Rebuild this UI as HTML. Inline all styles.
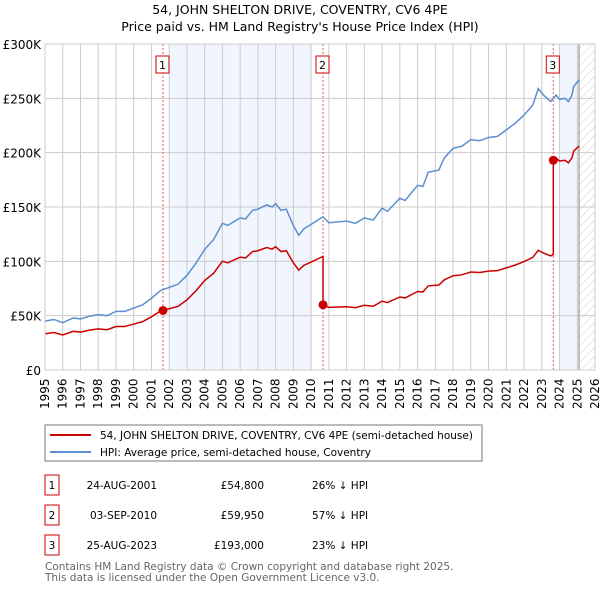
<!DOCTYPE html>
<html><head><meta charset="utf-8"><style>
body{margin:0;background:#fff;font-family:"Liberation Sans",sans-serif;}
svg text{font-family:"DejaVu Sans","Liberation Sans",sans-serif;}
</style></head><body>
<svg id="c" width="600" height="590" xmlns="http://www.w3.org/2000/svg">
<defs><pattern id="hatch" width="6" height="6" patternUnits="userSpaceOnUse" patternTransform="rotate(45)"><line x1="0" y1="0" x2="0" y2="6" stroke="#ccc" stroke-width="1"/></pattern></defs>
<text x="300" y="14" text-anchor="middle" font-size="12.5">54, JOHN SHELTON DRIVE, COVENTRY, CV6 4PE</text>
<text x="300" y="31" text-anchor="middle" font-size="12.5">Price paid vs. HM Land Registry's House Price Index (HPI)</text>
<g id="plot"></g>
<rect x="45" y="425" width="437" height="36" fill="#fff" stroke="#777"/>
<line x1="50" y1="435" x2="91" y2="435" stroke="#cc0000" stroke-width="2"/>
<text x="100" y="439" font-size="10.5">54, JOHN SHELTON DRIVE, COVENTRY, CV6 4PE (semi-detached house)</text>
<line x1="50" y1="452" x2="91" y2="452" stroke="#5b8fd0" stroke-width="2"/>
<text x="100" y="456" font-size="10.5">HPI: Average price, semi-detached house, Coventry</text>
<g id="table" font-size="10.5"></g>
<text x="45" y="570" font-size="10.5" fill="#666">Contains HM Land Registry data © Crown copyright and database right 2025.</text>
<text x="45" y="581" font-size="10.5" fill="#666">This data is licensed under the Open Government Licence v3.0.</text>
</svg>
<script>
const hpiYears=[1995,1995.5,1996,1996.6,1997,1997.5,1998,1998.5,1999,1999.5,2000,2000.5,2001,2001.5,2002,2002.5,2003,2003.5,2004,2004.5,2005,2005.3,2005.7,2006,2006.3,2006.7,2007,2007.5,2007.8,2008,2008.3,2008.6,2009,2009.3,2009.6,2010,2010.67,2011,2012,2012.5,2013,2013.5,2014,2014.3,2015,2015.3,2016,2016.3,2016.6,2017.2,2017.5,2018,2018.5,2019,2019.5,2020,2020.5,2021,2021.5,2022,2022.5,2022.8,2023.1,2023.5,2023.8,2024,2024.3,2024.5,2024.7,2024.8,2025.1];
const hpiValues=[45,46.5,43.5,48,47,49.5,51,50,54,54,57,60,66,73,76,79,87,98,111,120,135,133,137,140,139,147,148,152,150,153,147,148,133,124,130,134,141,135.5,137,135,140,138,149,146,158,156,170,169,182,184,195,204,206,212,211,214,215,221,227,234.6,244,259,253,247,253,249,250,247,253,261,267];
const saleYears=[2001.65,2010.67,2023.65];
const salePrices=[54.8,59.95,193];
const saleLabels=["1","2","3"];
const saleDates=["24-AUG-2001","03-SEP-2010","25-AUG-2023"];
const salePriceText=["£54,800","£59,950","£193,000"];
const saleHpiText=["26% ↓ HPI","57% ↓ HPI","23% ↓ HPI"];
const yTicks=[0,50,100,150,200,250,300];
const yTickLabels=["£0","£50K","£100K","£150K","£200K","£250K","£300K"];
const shadeRanges=[[2002,2010],[2024,2025.1]];
const NS="http://www.w3.org/2000/svg";
const X0=45,X1=595,Y0=370,Y1=44,T0=1995,T1=2026,VMAX=300;
const xs=t=>X0+(t-T0)/(T1-T0)*(X1-X0);
const ys=v=>Y0-v/VMAX*(Y0-Y1);
const plot=document.getElementById('plot');
function mk(tag,attrs,parent){const e=document.createElementNS(NS,tag);for(const k in attrs)e.setAttribute(k,attrs[k]);(parent||plot).appendChild(e);return e;}
function hpiAt(t){for(let i=0;i<hpiYears.length-1;i++){if(t<=hpiYears[i+1]){const f=(t-hpiYears[i])/(hpiYears[i+1]-hpiYears[i]);return hpiValues[i]+f*(hpiValues[i+1]-hpiValues[i]);}}return hpiValues[hpiValues.length-1];}
shadeRanges.forEach(r=>{const e=mk('rect',{x:xs(r[0]),y:Y1,width:xs(r[1])-xs(r[0]),height:Y0-Y1,fill:'#eef3fc',opacity:0.8});

});
const last=hpiYears[hpiYears.length-1];
let h=mk('rect',{x:xs(last),y:Y1,width:X1-xs(last),height:Y0-Y1,fill:'url(#hatch)'});


for(let yr=T0;yr<=T1;yr++){const g=mk('line',{x1:xs(yr),x2:xs(yr),y1:Y1,y2:Y0,stroke:'#ccc','stroke-width':1});


const t=mk('text',{transform:`translate(${xs(yr)+4},${Y0+39}) rotate(-90)`,'font-size':12});
t.textContent=yr;

}
yTicks.forEach((v,i)=>{const g=mk('line',{x1:X0,x2:X1,y1:ys(v),y2:ys(v),stroke:'#ccc','stroke-width':1});


const t=mk('text',{x:X0-4,y:ys(v)+5,'text-anchor':'end','font-size':12});
t.textContent=yTickLabels[i];

});
let vl=mk('line',{x1:xs(last),x2:xs(last),y1:Y1,y2:Y0,stroke:'#999','stroke-width':1.2});


saleYears.forEach((s,i)=>{const l=mk('line',{x1:xs(s),x2:xs(s),y1:Y1,y2:Y0,stroke:'#e55','stroke-dasharray':'2,2','stroke-width':1});


const b=mk('rect',{x:xs(s)-7,y:56,width:13,height:17,fill:'#fff',stroke:'#cc0000'});


const t=mk('text',{x:xs(s)-0.5,y:69,'text-anchor':'middle','font-size':11});
t.textContent=saleLabels[i];

});
let hp=mk('polyline',{points:hpiYears.map((t,i)=>xs(t)+','+ys(hpiValues[i])).join(' '),fill:'none',stroke:'#5b8fd0','stroke-width':1.5});


const pts=[];
function ratioAt(t){let k=0;for(let i=0;i<saleYears.length;i++)if(t>=saleYears[i])k=i;return salePrices[k]/hpiAt(saleYears[k]);}
const allT=hpiYears.concat(saleYears).sort((a,b)=>a-b);
allT.forEach(t=>{
 const si=saleYears.indexOf(t);
 if(si>0){pts.push([t,hpiAt(t)*salePrices[si-1]/hpiAt(saleYears[si-1])]);}
 pts.push([t,hpiAt(t)*ratioAt(t)]);});
let pl=mk('polyline',{points:pts.map(p=>xs(p[0])+','+ys(p[1])).join(' '),fill:'none',stroke:'#cc0000','stroke-width':1.5});


saleYears.forEach((s,i)=>{const c=mk('circle',{cx:xs(s),cy:ys(salePrices[i]),r:4.5,fill:'#cc0000'});

});
let fr=mk('rect',{x:X0,y:Y1,width:X1-X0,height:Y0-Y1,fill:'none',stroke:'#ccc'});


const tb=document.getElementById('table');
saleLabels.forEach((l,i)=>{const y=475+i*30;
 const b=mk('rect',{x:45,y:y,width:14,height:20,fill:'#fff',stroke:'#cc0000'},tb);
 
 
 const cells=[[52,l,'middle'],[157,saleDates[i],'end'],[264,salePriceText[i],'end'],[312,saleHpiText[i],'start']];
 cells.forEach(c=>{const t=mk('text',{x:c[0],y:y+14,'text-anchor':c[2]},tb);
 t.textContent=c[1];
 
 });
});
</script>
</body></html>
